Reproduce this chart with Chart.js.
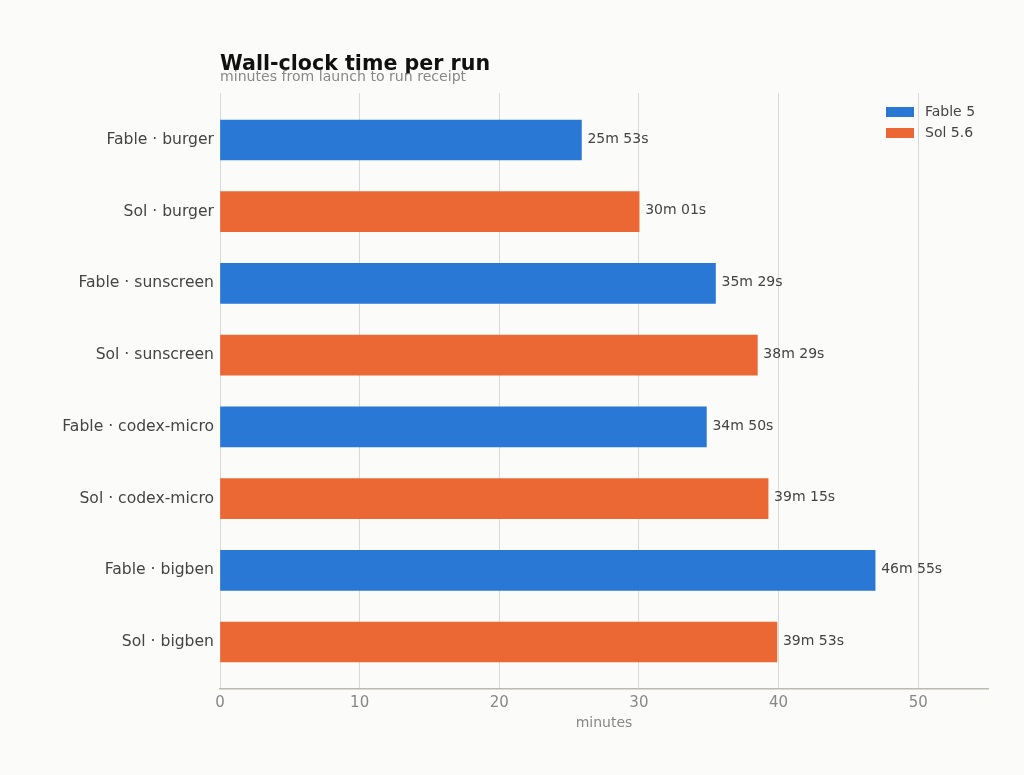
<!DOCTYPE html>
<html><head><meta charset="utf-8">
<script src="https://cdn.jsdelivr.net/npm/chart.js@4/dist/chart.umd.min.js"></script>
<style>html,body{margin:0;padding:0;background:#fbfbf9;font-family:'DejaVu Sans',sans-serif;}#wrap{width:1024px;height:775px;position:relative;}</style>
</head><body><div id="wrap"><canvas id="c"></canvas></div>
<script>
const categories = ["Fable · burger","Sol · burger","Fable · sunscreen","Sol · sunscreen","Fable · codex-micro","Sol · codex-micro","Fable · bigben","Sol · bigben"];
const seriesNames = ["Fable 5","Sol 5.6"];
const fableMinutes = [25+53/60, null, 35+29/60, null, 34+50/60, null, 46+55/60, null];
const solMinutes = [null, 30+1/60, null, 38+29/60, null, 39+15/60, null, 39+53/60];
const valueLabels = ["25m 53s","30m 01s","35m 29s","38m 29s","34m 50s","39m 15s","46m 55s","39m 53s"];
const xTicks = [0,10,20,30,40,50];
const colors = ["#2a78d6","#eb6834"];
const FONT = "'DejaVu Sans', sans-serif";

function toPoints(arr){ return arr.map((v,i)=> v==null? null : {x:v, y:i}).filter(p=>p); }

const overlay = {
  id:'overlay',
  afterDatasetsDraw(chart){
    const ctx = chart.ctx, ca = chart.chartArea;
    ctx.save();
    ctx.font = "14px " + FONT; ctx.fillStyle = "#444"; ctx.textBaseline = "middle"; ctx.textAlign = "left";
    chart.data.datasets.forEach((ds, di)=>{
      const meta = chart.getDatasetMeta(di);
      meta.data.forEach((bar, j)=>{
        const p = ds.data[j];
        ctx.fillText(valueLabels[p.y], bar.x + 6, bar.y - 1);
      });
    });
    ctx.textAlign = "left"; ctx.textBaseline = "alphabetic";
    ctx.font = "bold 20.6px " + FONT; ctx.fillStyle = "#111";
    ctx.fillText("Wall-clock time per run", ca.left, 70);
    ctx.font = "14.1px " + FONT; ctx.fillStyle = "#888";
    ctx.fillText("minutes from launch to run receipt", ca.left, 81);
    ctx.font = "14px " + FONT; ctx.textBaseline = "middle";
    seriesNames.forEach((n,i)=>{
      const y = 112 + i*21;
      ctx.fillStyle = colors[i];
      ctx.fillRect(886, y-5, 28, 10);
      ctx.fillStyle = "#444";
      ctx.fillText(n, 925, y);
    });
    ctx.restore();
  }
};

new Chart(document.getElementById('c'), {
  type:'bar',
  data:{ datasets:[
    {label:seriesNames[0], data:toPoints(fableMinutes), backgroundColor:colors[0], grouped:false, barThickness:40},
    {label:seriesNames[1], data:toPoints(solMinutes), backgroundColor:colors[1], grouped:false, barThickness:40}
  ]},
  options:{
    indexAxis:'y', responsive:true, maintainAspectRatio:false, animation:false,
    layout:{padding:{top:93, right:36, left:0, bottom:0}},
    plugins:{legend:{display:false}, tooltip:{enabled:false}},
    scales:{
      x:{ type:'linear', min:0, max:55,
        afterBuildTicks(s){ s.ticks = xTicks.map(v=>({value:v})); },
        ticks:{ font:{family:FONT, size:15}, color:"#888", padding:5 },
        grid:{ color:"#d9d9d9", lineWidth:1, drawTicks:false },
        border:{ color:"#bbbbb0", width:1.5 },
        title:{ display:true, text:"minutes", font:{family:FONT, size:14}, color:"#888", padding:{top:0, bottom:43} },
        afterFit(s){ s.height = 86; }
      },
      y:{ type:'linear', reverse:true, min:-0.655, max:7.655, offset:false,
        afterBuildTicks(s){ s.ticks = categories.map((c,i)=>({value:i})); },
        ticks:{ font:{family:FONT, size:15.6}, color:"#444", padding:6, callback:(v)=>categories[v] },
        grid:{ display:false, drawTicks:false },
        border:{ display:false },
        afterFit(s){ s.width = 220; }
      }
    }
  },
  plugins:[overlay]
});
</script></body></html>
